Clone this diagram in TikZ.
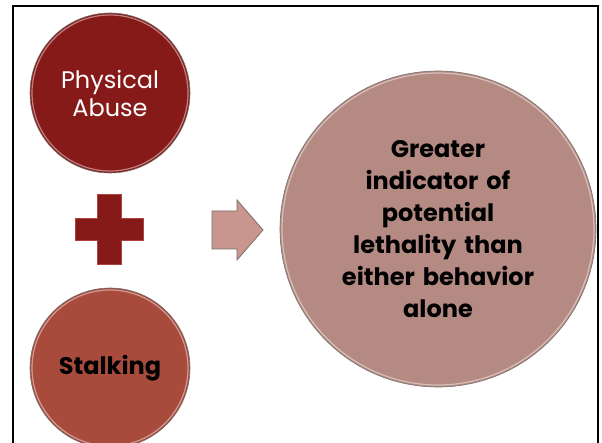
\documentclass[tikz,border=0pt]{standalone}
\usepackage{fontspec}
\setmainfont{Poppins}
\usepackage{xcolor}
\usepackage{tikz}
\usetikzlibrary{calc}

\definecolor{physred}{RGB}{134,26,24}
\definecolor{stalkred}{RGB}{168,74,60}
\definecolor{resultrose}{RGB}{181,138,130}
\definecolor{arrowrose}{RGB}{200,150,142}
\definecolor{rimgray}{RGB}{120,110,108}

\tikzset{
    bubble/.style={circle,draw=rimgray,line width=0.6pt,inner sep=0pt,align=center},
    rim/.style={draw=white,opacity=0.45,line width=1.2pt}
}

\begin{document}
\begin{tikzpicture}[x=1pt,y=-1pt]
        \useasboundingbox (0,0) rectangle (602,443);
        \fill[white] (0,0) rectangle (602,443);
        % frame, bottom edge falls outside the page
        \draw[black,line width=2pt] (13,460) -- (13,6) -- (598,6) -- (598,460);

        \node[bubble,fill=physred,minimum size=160pt,text=white,
              font=\fontsize{24}{28}\selectfont] (phys) at (110,93) {Physical\\Abuse};
        \draw[rim] (phys.center) circle (78pt);

        \node[bubble,fill=stalkred,minimum size=160pt,
              font=\bfseries\fontsize{24}{28}\selectfont] (stalk) at (110,368) {Stalking};
        \draw[rim] (stalk.center) circle (78pt);

        \node[bubble,fill=resultrose,minimum size=316pt,text width=250pt,
              font=\bfseries\fontsize{24}{32}\selectfont] (result) at (438,229)
            {Greater\\indicator of\\potential\\lethality than\\either behavior\\alone};
        \draw[rim] (result.center) circle (156pt);

        % plus sign
        \coordinate (plus) at (109,230);
        \draw[fill=physred,draw=rimgray!60!red,line width=1pt]
            ($(plus)+(-12,-35)$) -- ($(plus)+(12,-35)$) -- ($(plus)+(12,-11)$)
            -- ($(plus)+(34,-11)$) -- ($(plus)+(34,11)$) -- ($(plus)+(12,11)$)
            -- ($(plus)+(12,35)$) -- ($(plus)+(-12,35)$) -- ($(plus)+(-12,11)$)
            -- ($(plus)+(-34,11)$) -- ($(plus)+(-34,-11)$) -- ($(plus)+(-12,-11)$) -- cycle;

        % block arrow
        \coordinate (arrow) at (212,230);
        \draw[fill=arrowrose,draw=rimgray,line width=0.8pt]
            ($(arrow)+(0,-19)$) -- ($(arrow)+(25,-19)$) -- ($(arrow)+(25,-30)$)
            -- ($(arrow)+(51,0)$) -- ($(arrow)+(25,30)$) -- ($(arrow)+(25,19)$)
            -- ($(arrow)+(0,19)$) -- cycle;
    \end{tikzpicture}
\end{document}
